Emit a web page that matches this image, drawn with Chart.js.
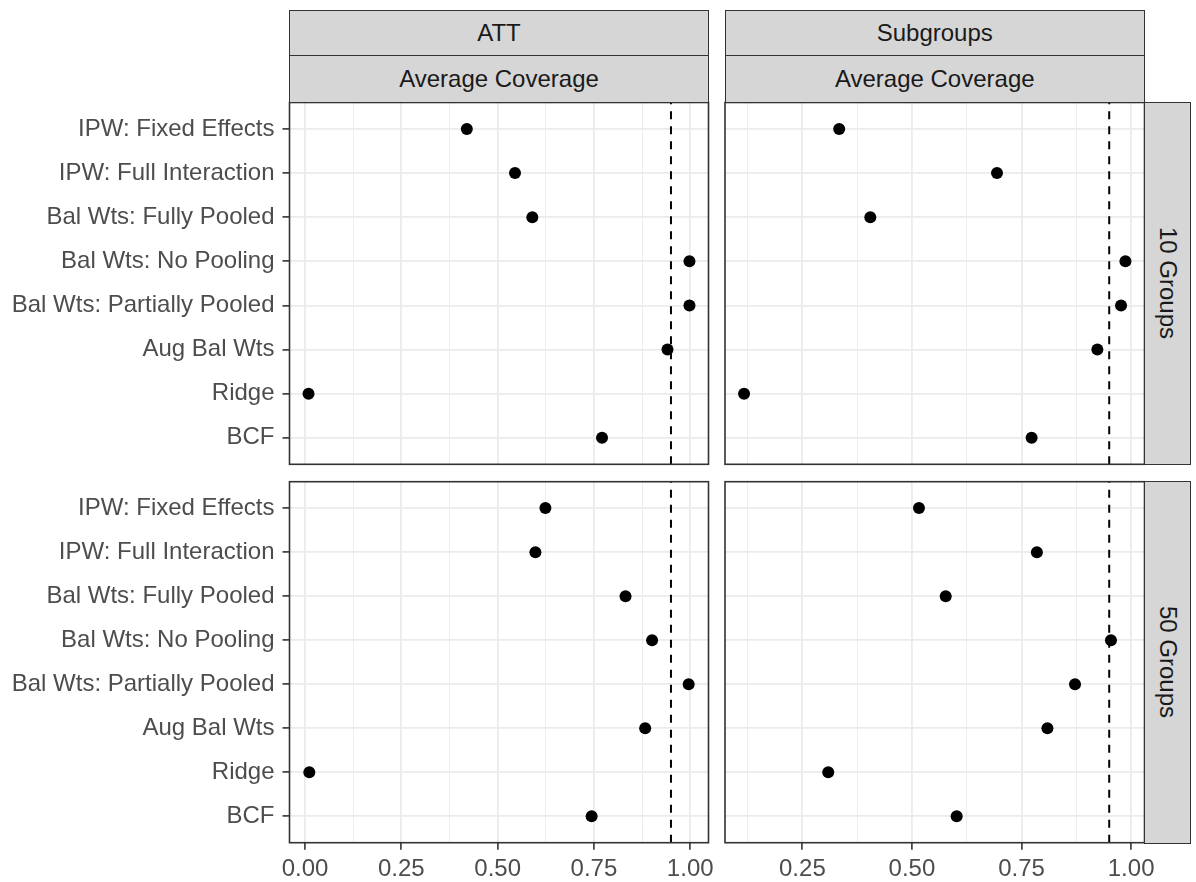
<!DOCTYPE html>
<html>
<head>
<meta charset="utf-8">
<script src="https://cdn.jsdelivr.net/npm/chart.js@4.4.1/dist/chart.umd.min.js"></script>
<style>
  body { margin: 0; background: #fff; }
  #wrap { position: relative; width: 1196px; height: 882px; background: #fff; overflow: hidden;
          font-family: "Liberation Sans", Arial, sans-serif; }
  #wrap canvas { position: absolute; left: 0; top: 0; }
  .strip { position: absolute; box-sizing: border-box; background: #d6d6d6; border: 1.6px solid #333;
           color: #1a1a1a; font-size: 24px; display: flex; align-items: center; justify-content: center; }
  .strip.v { writing-mode: vertical-rl; }
</style>
</head>
<body>
<div id="wrap">
  <canvas id="tl" width="1196" height="882"></canvas>
  <canvas id="tr" width="1196" height="882"></canvas>
  <canvas id="bl" width="1196" height="882"></canvas>
  <canvas id="br" width="1196" height="882"></canvas>

  <div class="strip" style="left:289px;top:10px;width:420px;height:46.5px">ATT</div>
  <div class="strip" style="left:289px;top:55px;width:420px;height:48px">Average Coverage</div>
  <div class="strip" style="left:724.5px;top:10px;width:420.5px;height:46.5px">Subgroups</div>
  <div class="strip" style="left:724.5px;top:55px;width:420.5px;height:48px">Average Coverage</div>
  <div class="strip v" style="left:1144px;top:102px;width:47px;height:363px">10 Groups</div>
  <div class="strip v" style="left:1144px;top:481px;width:47px;height:362.5px">50 Groups</div>
</div>
<script>
// methods, top to bottom
const methods = ["IPW: Fixed Effects", "IPW: Full Interaction", "Bal Wts: Fully Pooled",
  "Bal Wts: No Pooling", "Bal Wts: Partially Pooled", "Aug Bal Wts", "Ridge", "BCF"];

// average coverage
const att10 = [0.420, 0.545, 0.590, 0.998, 0.998, 0.941, 0.009, 0.771];
const sub10 = [0.334, 0.694, 0.405, 0.987, 0.977, 0.923, 0.117, 0.773];
const att50 = [0.624, 0.598, 0.832, 0.901, 0.996, 0.883, 0.011, 0.744];
const sub50 = [0.516, 0.785, 0.577, 0.954, 0.872, 0.809, 0.309, 0.602];

// x tick labels per column
const attTicks = [0, 0.25, 0.5, 0.75, 1];
const subTicks = [0.25, 0.5, 0.75, 1];

// nominal coverage line
const target = 0.95;

const FONT = "'Liberation Sans', Arial, sans-serif";
const W = 1196, H = 882;

// ggplot style 5% expansion of the column's data range
function expand(a, b) {
  const all = a.concat(b);
  const lo = Math.min(...all), hi = Math.max(...all);
  const pad = (hi - lo) * 0.05;
  return [lo - pad, hi + pad];
}

function withMinor(major, lim) {
  const step = major[1] - major[0];
  const out = [];
  for (let v = major[0] - step / 2; v <= major[major.length - 1] + step / 2 + 1e-9; v += step / 2) {
    if (v >= lim[0] && v <= lim[1]) out.push(+v.toFixed(4));
  }
  return out;
}

const panelPlugin = {
  id: 'panel',
  beforeDatasetsDraw(chart) {
    const { ctx, chartArea: a } = chart;
    const px = chart.scales.x.getPixelForValue(target);
    ctx.save();
    ctx.strokeStyle = '#000';
    ctx.lineWidth = 2;
    ctx.setLineDash([8, 7]);
    ctx.beginPath();
    ctx.moveTo(px, a.bottom);
    ctx.lineTo(px, a.top);
    ctx.stroke();
    ctx.restore();
  },
  afterDraw(chart) {
    const { ctx, chartArea: a } = chart;
    ctx.save();
    ctx.strokeStyle = '#333';
    ctx.lineWidth = 1.6;
    ctx.strokeRect(a.left, a.top, a.right - a.left, a.bottom - a.top);
    ctx.restore();
  }
};

function makePanel(id, vals, major, lim, area, showY, showX) {
  const ticks = withMinor(major, lim);
  const isMajor = v => major.some(m => Math.abs(m - v) < 1e-6);

  new Chart(document.getElementById(id), {
    type: 'scatter',
    data: {
      datasets: [{
        data: vals.map((v, i) => ({ x: v, y: i })),
        pointRadius: 6,
        pointHoverRadius: 6,
        backgroundColor: '#000',
        borderWidth: 0
      }]
    },
    plugins: [panelPlugin],
    options: {
      responsive: false,
      animation: false,
      events: [],
      layout: {
        padding: {
          left: showY ? 0 : area.left,
          right: W - area.right,
          top: area.top,
          bottom: showX ? 0 : H - area.bottom
        }
      },
      plugins: { legend: { display: false }, tooltip: { enabled: false } },
      scales: {
        x: {
          type: 'linear',
          min: lim[0],
          max: lim[1],
          afterBuildTicks: s => { s.ticks = ticks.map(v => ({ value: v })); },
          afterFit: s => { s.height = showX ? H - area.bottom : 0; },
          border: { display: false },
          grid: {
            color: '#ebebeb',
            lineWidth: c => isMajor(c.tick.value) ? 1.8 : 0.9,
            drawTicks: showX,
            tickLength: 7,
            tickWidth: 1.6,
            tickColor: c => isMajor(c.tick.value) ? '#333' : 'rgba(0,0,0,0)'
          },
          ticks: {
            display: showX,
            autoSkip: false,
            maxRotation: 0,
            padding: 5,
            color: '#4d4d4d',
            font: { family: FONT, size: 24 },
            callback: v => isMajor(v) ? v.toFixed(2) : ''
          }
        },
        y: {
          type: 'linear',
          reverse: true,
          min: -0.6,
          max: methods.length - 0.4,
          afterBuildTicks: s => { s.ticks = methods.map((m, i) => ({ value: i })); },
          afterFit: s => { s.width = showY ? area.left : 0; },
          border: { display: false },
          grid: {
            color: '#ebebeb',
            lineWidth: 1.8,
            drawTicks: showY,
            tickLength: 7,
            tickWidth: 1.6,
            tickColor: '#333'
          },
          ticks: {
            display: showY,
            autoSkip: false,
            padding: 8,
            color: '#4d4d4d',
            font: { family: FONT, size: 24 },
            callback: v => methods[Math.round(v)]
          }
        }
      }
    }
  });
}

const attLim = expand(att10, att50);
const subLim = expand(sub10, sub50);

const colL = { left: 289.5, right: 708.5 };
const colR = { left: 725, right: 1144.5 };
const rowT = { top: 102.5, bottom: 464.3 };
const rowB = { top: 481.7, bottom: 842.7 };

makePanel('tl', att10, attTicks, attLim, { ...colL, ...rowT }, true, false);
makePanel('tr', sub10, subTicks, subLim, { ...colR, ...rowT }, false, false);
makePanel('bl', att50, attTicks, attLim, { ...colL, ...rowB }, true, true);
makePanel('br', sub50, subTicks, subLim, { ...colR, ...rowB }, false, true);
</script>
</body>
</html>
